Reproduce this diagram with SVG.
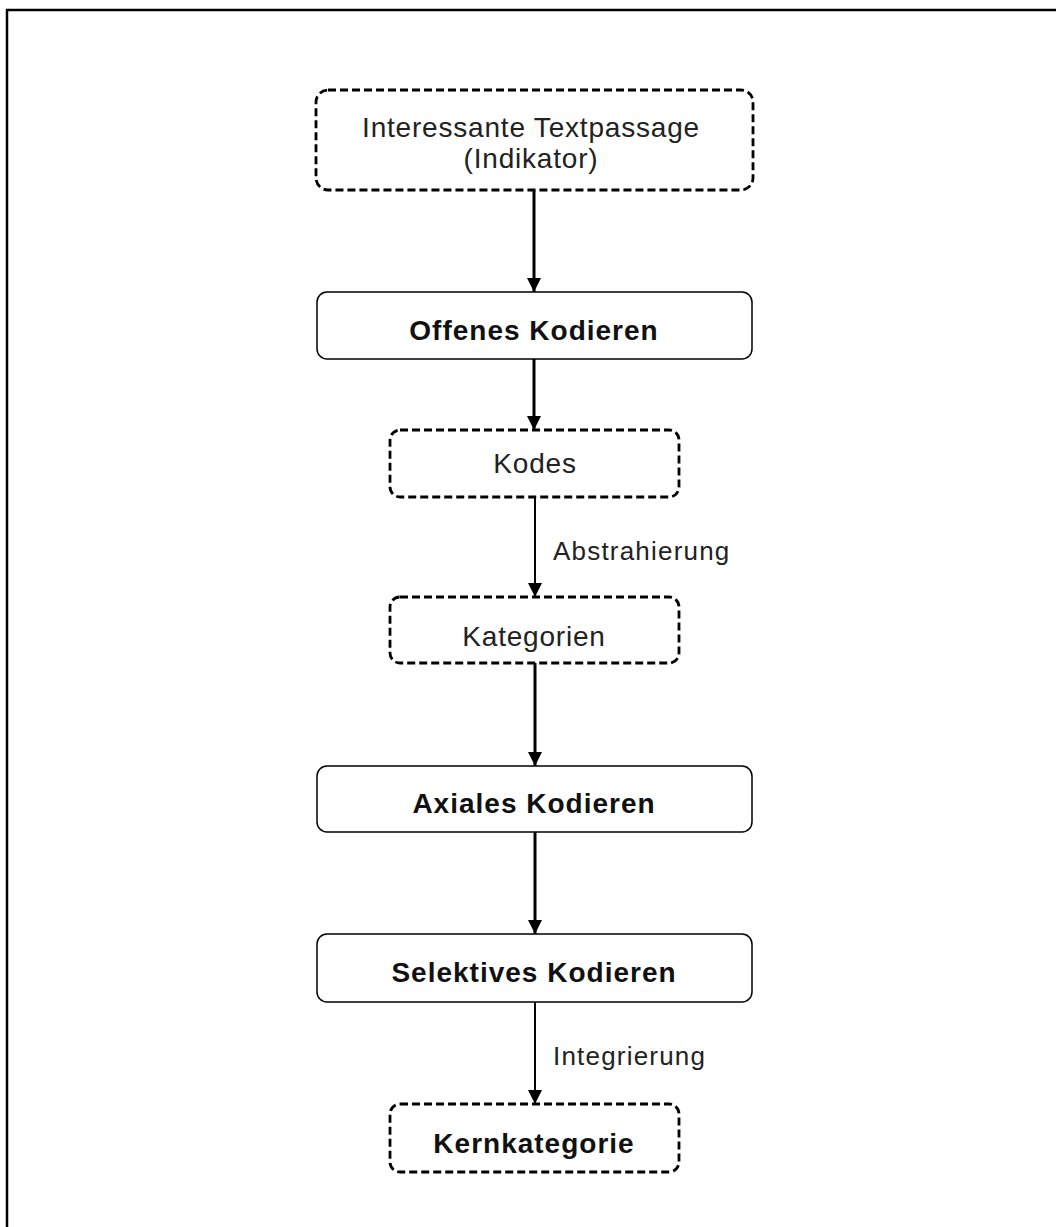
<svg xmlns="http://www.w3.org/2000/svg" width="1056" height="1227" viewBox="0 0 1056 1227">
<defs>
<marker id="ah" markerWidth="14" markerHeight="14" viewBox="0 0 14 14" refX="14" refY="7" orient="auto" markerUnits="userSpaceOnUse">
<path d="M0,0 L14,7 L0,14 Z" fill="#000"/>
</marker>
<style>
.dash{fill:#fff;stroke:#000;stroke-width:2.8;stroke-dasharray:8 4}
.solid{fill:#fff;stroke:#000;stroke-width:1.5}
.reg{font-family:"Liberation Sans",Arial,sans-serif;font-size:28px;fill:#222;text-anchor:middle;letter-spacing:0.8px}
.bold{font-family:"Liberation Sans",Arial,sans-serif;font-size:28px;font-weight:bold;fill:#111;text-anchor:middle;letter-spacing:1px}
.lbl{font-family:"Liberation Sans",Arial,sans-serif;font-size:26px;fill:#222;letter-spacing:1.2px}
.conn{stroke:#000;stroke-width:3;fill:none}
.conn2{stroke:#000;stroke-width:2;fill:none}
</style>
</defs>
<rect width="1056" height="1227" fill="#fff"/>
<path d="M7,1227 V10 H1056" fill="none" stroke="#000" stroke-width="2.5"/>
<g id="connectors">
<line class="conn" x1="534" y1="190" x2="534" y2="292" marker-end="url(#ah)"/>
<line class="conn" x1="534" y1="359" x2="534" y2="430" marker-end="url(#ah)"/>
<line class="conn2" x1="535" y1="497" x2="535" y2="597" marker-end="url(#ah)"/>
<text class="lbl" x="553" y="560">Abstrahierung</text>
<line class="conn" x1="535" y1="663" x2="535" y2="766" marker-end="url(#ah)"/>
<line class="conn" x1="535" y1="832" x2="535" y2="934" marker-end="url(#ah)"/>
<line class="conn2" x1="535" y1="1002" x2="535" y2="1104" marker-end="url(#ah)"/>
<text class="lbl" x="553" y="1065">Integrierung</text>
</g>
<g id="node-textpassage">
<rect class="dash" x="316" y="90" width="437" height="100" rx="12"/>
<text class="reg" x="531" y="137">Interessante Textpassage</text>
<text class="reg" x="531" y="168">(Indikator)</text>
</g>
<g id="node-offenes">
<rect class="solid" x="317" y="292" width="435" height="67" rx="10"/>
<text class="bold" x="534" y="340">Offenes Kodieren</text>
</g>
<g id="node-kodes">
<rect class="dash" x="390" y="430" width="289" height="67" rx="10"/>
<text class="reg" x="535" y="473">Kodes</text>
</g>
<g id="node-kategorien">
<rect class="dash" x="390" y="597" width="289" height="66" rx="10"/>
<text class="reg" x="534" y="646">Kategorien</text>
</g>
<g id="node-axiales">
<rect class="solid" x="317" y="766" width="435" height="66" rx="10"/>
<text class="bold" x="534" y="813">Axiales Kodieren</text>
</g>
<g id="node-selektives">
<rect class="solid" x="317" y="934" width="435" height="68" rx="10"/>
<text class="bold" x="534" y="982">Selektives Kodieren</text>
</g>
<g id="node-kern">
<rect class="dash" x="390" y="1104" width="289" height="68" rx="10"/>
<text class="bold" x="534" y="1153">Kernkategorie</text>
</g>
</svg>
